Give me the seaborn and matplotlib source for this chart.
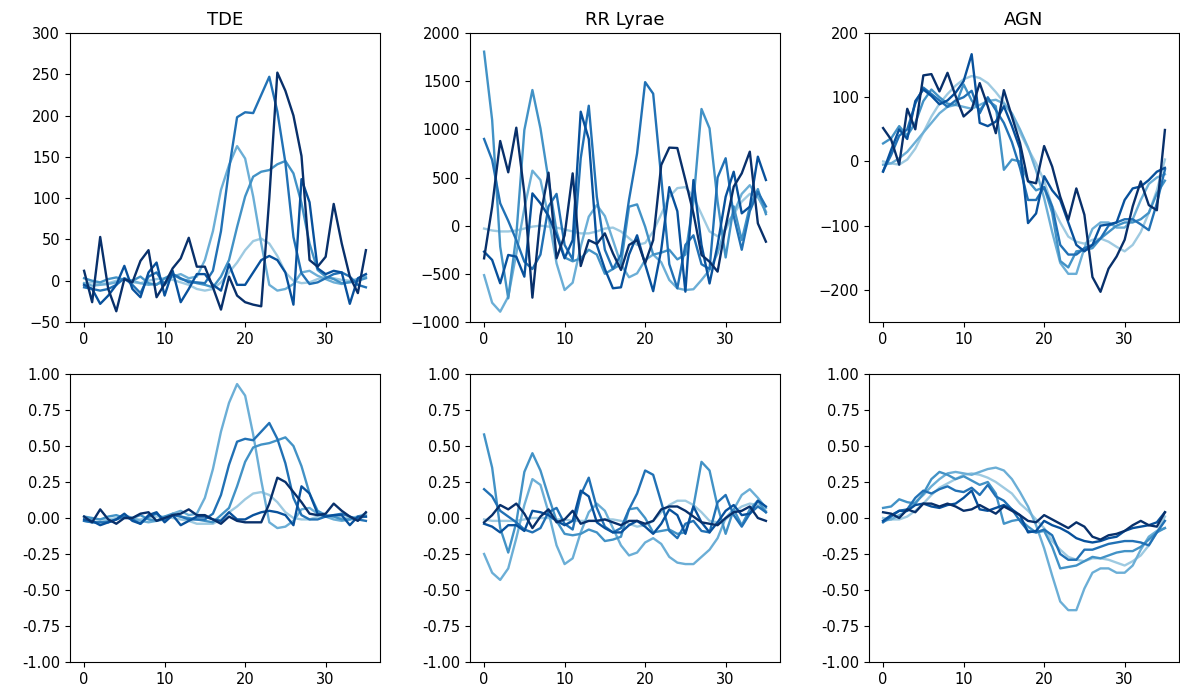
import numpy as np
import matplotlib
matplotlib.use("Agg")
import matplotlib.pyplot as plt
import seaborn as sns

# ---------------- data ----------------
titles = ["TDE", "RR Lyrae", "AGN"]
colors = ["#9ecae1", "#6baed6", "#4292c6", "#2171b5", "#08519c", "#08306b"]
x_steps = list(range(36))

tde_raw = [
    [-3,-2,-4,-3,0,2,-2,-3,0,2,3,1,-2,-5,-10,-12,-10,-2,10,22,37,48,51,45,30,10,0,-3,-2,2,4,3,1,0,2,4],
    [-3,-6,-5,-4,-2,3,0,-3,-5,-4,-2,5,8,3,5,25,60,110,140,163,148,102,45,-5,-12,-10,-4,10,12,6,2,-2,-4,-1,2,5],
    [3,0,-2,2,4,1,0,5,-3,-5,3,8,2,0,-3,-5,-8,5,25,65,102,126,132,134,141,145,130,94,45,13,5,2,-3,-2,0,3],
    [-8,-10,-12,-10,-5,3,-5,-15,5,10,-5,8,3,-2,-2,-3,12,60,135,198,204,203,225,247,205,143,53,9,-4,-2,3,8,10,5,-5,-8],
    [-5,-10,-28,-18,-5,18,-10,-20,10,22,-18,12,-26,-10,8,8,-5,-12,20,-5,-5,10,25,30,25,10,-29,123,95,15,8,12,10,-28,3,8],
    [12,-26,53,-10,-37,2,-2,24,37,-20,-4,15,27,52,17,17,-8,-35,5,-18,-26,-29,-31,100,252,230,200,151,25,17,29,93,45,5,-15,37],
]
tde_norm = [
    [-0.01,-0.01,-0.01,-0.01,0,0.01,-0.01,-0.01,0,0.01,0.01,0,-0.01,-0.02,-0.04,-0.04,-0.04,-0.01,0.04,0.08,0.13,0.17,0.18,0.16,0.11,0.04,0,-0.01,-0.01,0.01,0.01,0.01,0,0,0.01,0.01],
    [-0.02,-0.03,-0.03,-0.02,-0.01,0.02,0,-0.02,-0.03,-0.02,-0.01,0.03,0.05,0.02,0.03,0.14,0.34,0.6,0.8,0.93,0.85,0.58,0.26,-0.03,-0.07,-0.06,-0.02,0.06,0.07,0.03,0.01,-0.01,-0.02,-0.01,0.01,0.03],
    [0.01,0,-0.01,0.01,0.02,0,0,0.02,-0.01,-0.02,0.01,0.03,0.01,0,-0.01,-0.02,-0.03,0.02,0.07,0.22,0.39,0.49,0.51,0.52,0.54,0.56,0.5,0.36,0.17,0.05,0.02,0.01,-0.01,-0.01,0,0.01],
    [-0.02,-0.03,-0.03,-0.03,-0.01,0.01,-0.01,-0.04,0.01,0.03,-0.01,0.02,0.01,-0.01,-0.01,-0.01,0.03,0.16,0.37,0.53,0.55,0.54,0.6,0.66,0.55,0.38,0.14,0.02,-0.01,-0.01,0.01,0.02,0.03,0.01,-0.01,-0.02],
    [-0.01,-0.02,-0.05,-0.03,-0.01,0.03,-0.02,-0.04,0.02,0.04,-0.03,0.02,-0.05,-0.02,0.01,0.01,-0.01,-0.02,0.04,-0.01,-0.01,0.02,0.04,0.05,0.04,0.02,-0.05,0.22,0.17,0.03,0.01,0.02,0.02,-0.05,0.01,0.01],
    [0.01,-0.03,0.06,-0.01,-0.04,0,0,0.03,0.04,-0.02,0,0.02,0.03,0.06,0.02,0.02,-0.01,-0.04,0.01,-0.02,-0.03,-0.03,-0.03,0.1,0.28,0.25,0.18,0.11,0.03,0.02,0.03,0.1,0.05,0.01,-0.02,0.04],
]

rr_raw = [
    [-30,-50,-60,-60,-50,-30,-10,0,-10,-20,-40,-60,-80,-80,-60,-30,-20,-60,-130,-200,-180,-60,120,300,390,400,300,120,-60,-110,-40,120,250,330,300,150],
    [-514,-800,-893,-737,-290,180,571,474,93,-391,-668,-592,-218,93,214,100,-150,-400,-536,-495,-357,-300,-380,-564,-650,-668,-660,-564,-460,-287,-10,130,330,420,300,140],
    [1806,1097,-218,-754,-100,993,1408,1010,474,-60,-330,-370,-340,-250,-300,-500,-450,-400,197,221,-10,-300,-280,-250,-350,-300,250,1211,1010,250,-330,200,-150,200,380,120],
    [900,682,232,50,-150,-374,-450,-300,200,330,-200,-350,700,1245,300,-250,-450,-300,270,750,1490,1370,500,-400,-650,-200,-100,-400,-450,500,700,100,-250,150,350,200],
    [-270,-356,-598,-304,-322,-529,335,232,100,-100,-339,-150,1183,900,-200,-450,-650,-640,-300,-100,-400,-680,-250,400,150,-685,474,-200,-600,-200,300,560,128,197,716,474],
    [-339,197,879,554,1017,335,-747,100,550,-339,-100,543,-419,-150,-190,-80,-287,-460,-200,-150,-390,-150,630,810,806,474,128,-304,-374,-477,-10,405,543,768,24,-166],
]
rr_norm = [
    [-0.01,-0.02,-0.02,-0.02,-0.02,-0.01,0,0,0,-0.01,-0.01,-0.02,-0.02,-0.02,-0.02,-0.01,-0.01,-0.02,-0.04,-0.06,-0.05,-0.02,0.04,0.09,0.12,0.12,0.09,0.04,-0.02,-0.03,-0.01,0.04,0.08,0.1,0.09,0.05],
    [-0.25,-0.38,-0.43,-0.35,-0.14,0.09,0.27,0.23,0.04,-0.19,-0.32,-0.28,-0.1,0.04,0.1,0.05,-0.07,-0.19,-0.26,-0.24,-0.17,-0.14,-0.18,-0.27,-0.31,-0.32,-0.32,-0.27,-0.22,-0.14,0,0.06,0.16,0.2,0.14,0.07],
    [0.58,0.35,-0.07,-0.24,-0.03,0.32,0.45,0.33,0.15,-0.02,-0.11,-0.12,-0.11,-0.08,-0.1,-0.16,-0.15,-0.13,0.06,0.07,0,-0.1,-0.09,-0.08,-0.11,-0.1,0.08,0.39,0.33,0.08,-0.11,0.06,-0.05,0.06,0.12,0.04],
    [0.2,0.15,0.05,0.01,-0.03,-0.08,-0.1,-0.07,0.04,0.07,-0.04,-0.08,0.16,0.28,0.07,-0.06,-0.1,-0.07,0.06,0.17,0.33,0.3,0.11,-0.09,-0.14,-0.04,-0.02,-0.09,-0.1,0.11,0.16,0.02,-0.06,0.03,0.08,0.04],
    [-0.04,-0.06,-0.1,-0.05,-0.05,-0.09,0.05,0.04,0.02,-0.02,-0.05,-0.02,0.19,0.15,-0.03,-0.07,-0.1,-0.1,-0.05,-0.02,-0.06,-0.11,-0.04,0.06,0.02,-0.11,0.08,-0.03,-0.1,-0.03,0.05,0.09,0.02,0.03,0.12,0.08],
    [-0.03,0.02,0.09,0.06,0.1,0.03,-0.07,0.01,0.06,-0.03,-0.01,0.05,-0.04,-0.02,-0.02,-0.01,-0.03,-0.05,-0.02,-0.02,-0.04,-0.02,0.06,0.08,0.08,0.05,0.01,-0.03,-0.04,-0.05,0,0.04,0.05,0.08,0,-0.02],
]

agn_raw = [
    [0,-3,-5,3,20,45,70,90,105,118,128,133,130,122,108,92,72,45,20,-3,-30,-70,-95,-117,-125,-128,-122,-120,-125,-133,-140,-130,-110,-80,-45,3],
    [-5,-3,5,15,30,45,60,75,85,88,85,82,88,94,96,90,75,50,22,-14,-57,-110,-158,-175,-175,-135,-105,-95,-95,-103,-103,-90,-60,-35,-25,-20],
    [28,36,55,40,60,94,112,100,90,88,120,95,80,95,86,-13,3,0,-30,-45,-40,-80,-155,-165,-140,-138,-135,-120,-110,-100,-95,-95,-90,-80,-50,-30],
    [-15,10,40,50,90,115,105,95,85,95,100,110,75,100,80,60,30,-10,-60,-60,-40,-70,-130,-145,-145,-135,-130,-120,-100,-95,-90,-90,-98,-107,-65,-13],
    [-16,18,50,35,94,112,102,89,95,107,125,167,60,55,62,86,55,20,-96,-81,-23,-45,-60,-95,-130,-140,-130,-100,-98,-95,-60,-42,-39,-29,-16,-10],
    [52,34,-5,82,50,134,136,109,138,102,70,81,122,86,44,111,70,29,-31,-34,24,-8,-55,-91,-42,-83,-180,-203,-167,-148,-122,-70,-31,-68,-76,49],
]
agn_norm = [
    [0,-0.01,-0.01,0.01,0.05,0.1,0.16,0.21,0.24,0.27,0.3,0.31,0.3,0.28,0.25,0.21,0.17,0.1,0.05,-0.01,-0.07,-0.16,-0.22,-0.27,-0.29,-0.3,-0.28,-0.28,-0.29,-0.31,-0.33,-0.3,-0.26,-0.19,-0.1,0.01],
    [-0.02,-0.01,0.02,0.05,0.11,0.16,0.22,0.27,0.31,0.32,0.31,0.3,0.32,0.34,0.35,0.33,0.27,0.18,0.08,-0.05,-0.21,-0.4,-0.58,-0.64,-0.64,-0.49,-0.38,-0.35,-0.35,-0.38,-0.38,-0.33,-0.22,-0.13,-0.09,-0.07],
    [0.07,0.08,0.13,0.11,0.1,0.17,0.27,0.32,0.3,0.27,0.29,0.26,0.23,0.25,0.17,-0.04,-0.02,-0.01,-0.06,-0.1,-0.09,-0.2,-0.35,-0.34,-0.33,-0.3,-0.27,-0.28,-0.26,-0.24,-0.23,-0.23,-0.2,-0.15,-0.1,-0.07],
    [-0.03,0.01,0.05,0.06,0.14,0.19,0.17,0.2,0.22,0.19,0.18,0.21,0.16,0.23,0.15,0.12,0.06,-0.02,-0.09,-0.1,-0.08,-0.12,-0.25,-0.29,-0.29,-0.22,-0.22,-0.2,-0.18,-0.17,-0.16,-0.16,-0.17,-0.19,-0.1,-0.02],
    [-0.02,0.02,0.05,0.05,0.09,0.1,0.08,0.07,0.09,0.1,0.14,0.19,0.06,0.05,0.07,0.09,0.06,0.02,-0.1,-0.09,-0.02,-0.05,-0.07,-0.1,-0.14,-0.16,-0.17,-0.16,-0.14,-0.13,-0.09,-0.07,-0.06,-0.05,-0.03,0.04],
    [0.04,0.03,0,0.06,0.04,0.1,0.1,0.08,0.1,0.08,0.05,0.06,0.09,0.06,0.03,0.08,0.05,0.02,-0.02,-0.03,0.02,-0.01,-0.04,-0.07,-0.03,-0.06,-0.13,-0.15,-0.12,-0.11,-0.09,-0.05,-0.02,-0.05,-0.06,0.04],
]

raw_ylims = [(-50, 300), (-1000, 2000), (-250, 200)]
raw_yticks = [np.arange(-50, 301, 50), np.arange(-1000, 2001, 500), np.arange(-200, 201, 100)]

# ---------------- figure ----------------
fig = plt.figure(figsize=(11.8, 6.91), dpi=100)
lefts = [70 / 1180, 470 / 1180, 869 / 1180]
width = 310 / 1180
top_row = (1 - 322 / 691, 289 / 691)
bot_row = (1 - 662 / 691, 288 / 691)

raw_sets = [tde_raw, rr_raw, agn_raw]
norm_sets = [tde_norm, rr_norm, agn_norm]

for c in range(3):
    ax = fig.add_axes([lefts[c], top_row[0], width, top_row[1]])
    for k, series in enumerate(raw_sets[c]):
        sns.lineplot(x=x_steps, y=series, ax=ax, color=colors[k], linewidth=1.7, legend=False)
    ax.set_ylim(*raw_ylims[c])
    ax.set_yticks(raw_yticks[c])
    ax.set_xticks([0, 10, 20, 30])
    ax.tick_params(labelsize=10.5)
    ax.set_title(titles[c], fontsize=13)

    axb = fig.add_axes([lefts[c], bot_row[0], width, bot_row[1]])
    for k, series in enumerate(norm_sets[c]):
        sns.lineplot(x=x_steps, y=series, ax=axb, color=colors[k], linewidth=1.7, legend=False)
    axb.set_ylim(-1, 1)
    axb.set_yticks(np.arange(-1, 1.01, 0.25))
    axb.set_yticklabels([f"{v:.2f}" for v in np.arange(-1, 1.01, 0.25)])
    axb.set_xticks([0, 10, 20, 30])
    axb.tick_params(labelsize=10.5)

fig.savefig("out.png", dpi=100)
